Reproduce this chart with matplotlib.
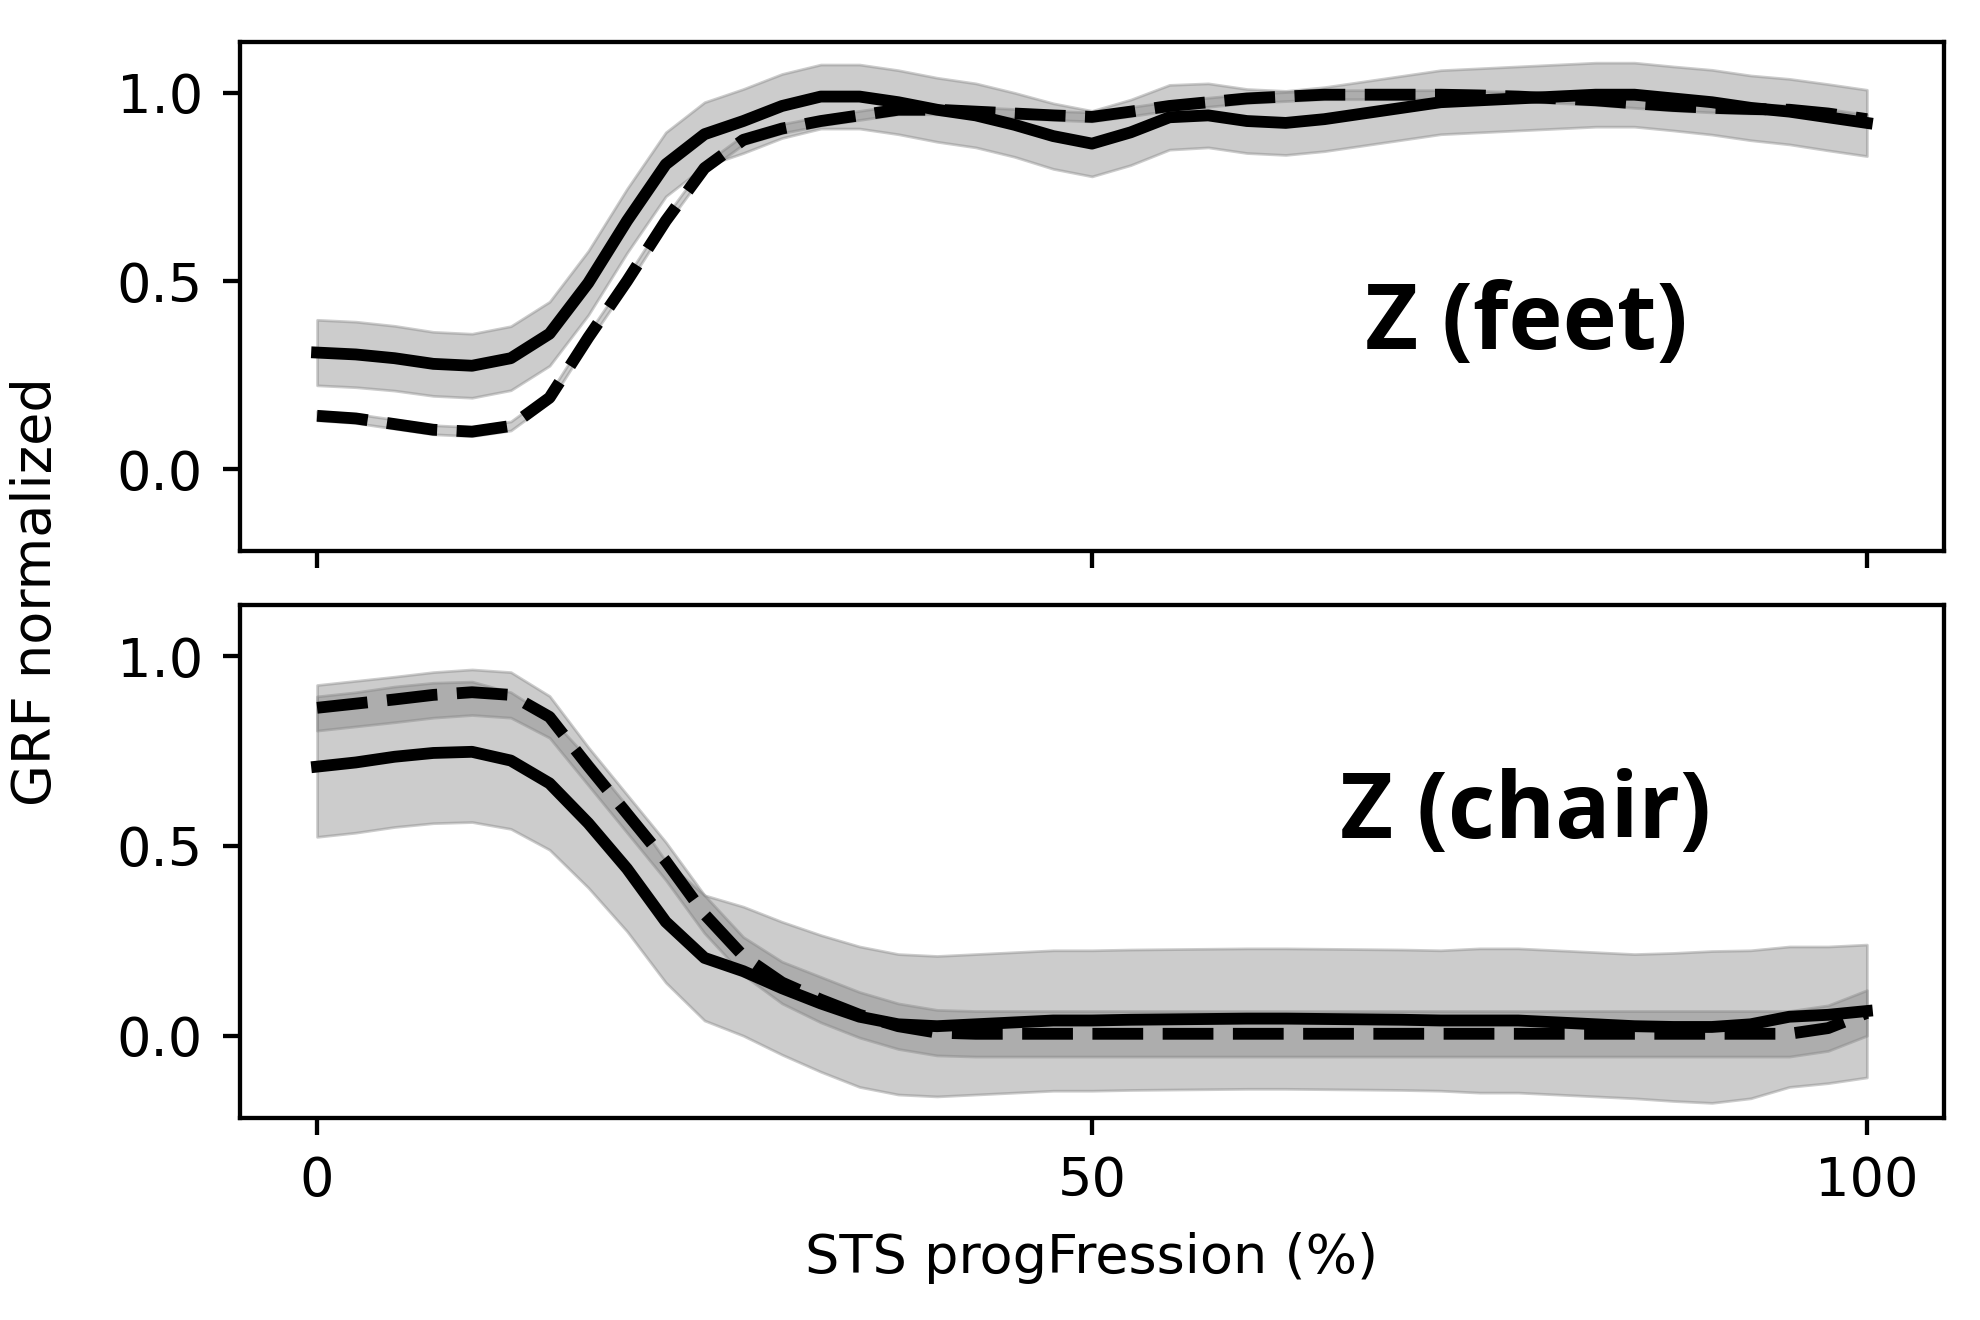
import numpy as np
import matplotlib
matplotlib.use("Agg")
import matplotlib.pyplot as plt

# STS progression (%)
x = np.arange(0, 101, 2.5)

# feet, vertical GRF (solid / dashed group)
feet_solid = [0.31, 0.305, 0.295, 0.28, 0.275, 0.295, 0.36, 0.495, 0.66, 0.81, 0.89,
              0.925, 0.965, 0.99, 0.99, 0.975, 0.955, 0.94, 0.915, 0.885, 0.865,
              0.895, 0.935, 0.94, 0.925, 0.92, 0.93, 0.945, 0.96, 0.975, 0.98,
              0.985, 0.99, 0.995, 0.995, 0.985, 0.975, 0.96, 0.95, 0.935, 0.92]
feet_solid_sd = [0.087, 0.087, 0.086, 0.085, 0.085, 0.085, 0.085, 0.085, 0.085, 0.085, 0.085,
                 0.085, 0.085, 0.085, 0.085, 0.085, 0.085, 0.085, 0.085, 0.087, 0.087,
                 0.087, 0.086, 0.085, 0.085, 0.085, 0.085, 0.085, 0.085, 0.085, 0.085,
                 0.085, 0.085, 0.085, 0.085, 0.085, 0.086, 0.086, 0.087, 0.088, 0.088]
feet_dash = [0.142, 0.135, 0.12, 0.105, 0.10, 0.115, 0.19, 0.35, 0.50, 0.66, 0.80,
             0.875, 0.905, 0.925, 0.94, 0.955, 0.955, 0.95, 0.945, 0.94, 0.936,
             0.95, 0.965, 0.975, 0.985, 0.99, 0.995, 0.995, 0.995, 0.995, 0.993,
             0.99, 0.985, 0.98, 0.972, 0.965, 0.96, 0.957, 0.955, 0.945, 0.93]
feet_dash_sd = [0.012] * 41

# chair, vertical GRF
chair_solid = [0.709, 0.72, 0.735, 0.745, 0.748, 0.725, 0.665, 0.56, 0.44, 0.30, 0.205,
               0.17, 0.125, 0.085, 0.05, 0.03, 0.025, 0.03, 0.035, 0.04, 0.04,
               0.042, 0.043, 0.044, 0.045, 0.045, 0.044, 0.043, 0.042, 0.04, 0.04,
               0.04, 0.035, 0.03, 0.025, 0.023, 0.023, 0.03, 0.05, 0.055, 0.065]
chair_solid_sd = [0.185, 0.185, 0.185, 0.185, 0.185, 0.18, 0.175, 0.17, 0.165, 0.16, 0.165,
                  0.17, 0.175, 0.18, 0.185, 0.185, 0.185, 0.185, 0.185, 0.185, 0.185,
                  0.185, 0.185, 0.185, 0.185, 0.185, 0.185, 0.185, 0.185, 0.185, 0.19,
                  0.19, 0.19, 0.19, 0.19, 0.195, 0.2, 0.195, 0.185, 0.18, 0.175]
chair_dash = [0.864, 0.875, 0.886, 0.898, 0.905, 0.898, 0.84, 0.71, 0.585, 0.46, 0.32,
              0.21, 0.14, 0.095, 0.055, 0.025, 0.008, 0.005, 0.005, 0.005, 0.005,
              0.005, 0.005, 0.005, 0.005, 0.005, 0.005, 0.005, 0.005, 0.005, 0.005,
              0.005, 0.005, 0.005, 0.005, 0.005, 0.005, 0.005, 0.005, 0.02, 0.06]
chair_dash_sd = [0.06, 0.06, 0.06, 0.06, 0.06, 0.06, 0.055, 0.05, 0.05, 0.05, 0.05,
                 0.05, 0.055, 0.06, 0.06, 0.06, 0.06, 0.06, 0.06, 0.06, 0.06,
                 0.06, 0.06, 0.06, 0.06, 0.06, 0.06, 0.06, 0.06, 0.06, 0.06,
                 0.06, 0.06, 0.06, 0.06, 0.06, 0.06, 0.06, 0.06, 0.06, 0.06]

plt.rcParams['font.size'] = 39
plt.rcParams['axes.linewidth'] = 3.1
plt.rcParams['xtick.major.size'] = 12.5
plt.rcParams['ytick.major.size'] = 12.5
plt.rcParams['xtick.major.width'] = 3.1
plt.rcParams['ytick.major.width'] = 3.1
plt.rcParams['xtick.major.pad'] = 14
plt.rcParams['ytick.major.pad'] = 14

fig = plt.figure(figsize=(19.8, 13.2), dpi=100)
ax1 = fig.add_axes([0.121, 0.5826, 0.861, 0.3856])
ax2 = fig.add_axes([0.121, 0.153, 0.861, 0.3887], sharex=ax1, sharey=ax1)


def draw(ax, solid, solid_sd, dash, dash_sd):
    solid = np.array(solid)
    dash = np.array(dash)
    ax.fill_between(x, solid - np.array(solid_sd), solid + np.array(solid_sd),
                    color="gray", alpha=0.4, linewidth=2)
    ax.fill_between(x, dash - np.array(dash_sd), dash + np.array(dash_sd),
                    color="gray", alpha=0.4, linewidth=2)
    ax.plot(x, solid, color="black", lw=8.5, solid_joinstyle="round")
    ax.plot(x, dash, color="black", lw=8.5, ls=(0, (4.3, 1.65)))


draw(ax1, feet_solid, feet_solid_sd, feet_dash, feet_dash_sd)
draw(ax2, chair_solid, chair_solid_sd, chair_dash, chair_dash_sd)

ax1.set_xlim(-5, 105)
ax1.set_ylim(-0.217, 1.135)
ax1.set_xticks([0, 50, 100])
ax1.set_yticks([0.0, 0.5, 1.0])
ax1.tick_params(labelbottom=False)

ax1.text(78, 0.383, "Z (feet)", fontsize=66, fontweight="bold",
         family="Open Sans", ha="center", va="center")
ax2.text(78, 0.583, "Z (chair)", fontsize=66, fontweight="bold",
         family="Open Sans", ha="center", va="center")

ax2.set_xlabel("STS progFression (%)", labelpad=18)
fig.text(0.018, 0.552, "GRF normalized", rotation=90, ha="center", va="center")

fig.savefig("out.png", dpi=100)
